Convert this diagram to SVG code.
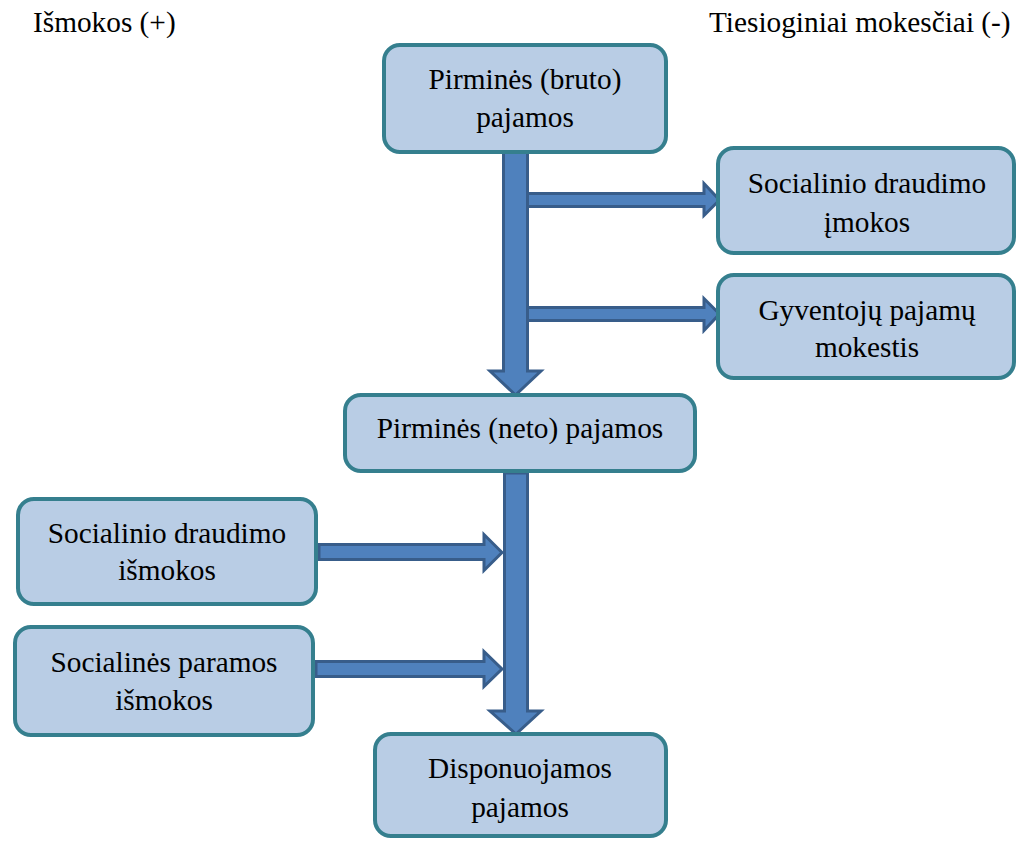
<svg xmlns="http://www.w3.org/2000/svg" width="1018" height="841" viewBox="0 0 1018 841">
<style>
.box{fill:#b9cde5;stroke:#357f8e;stroke-width:4}
.arr{fill:#4f81bd;stroke:#385d8a;stroke-width:3;stroke-linejoin:miter}
.t{font-family:'Liberation Serif',serif;font-size:29.3px;fill:#000}
.c{text-anchor:middle}
</style>
<rect width="1018" height="841" fill="#fff"/>
<text class="t" x="33" y="32">Išmokos (+)</text>
<text class="t" x="709" y="32">Tiesioginiai mokesčiai (-)</text>
<g id="connectors">
<polygon class="arr" points="518,193.5 704,193.5 704,183.5 719.5,200 704,215.5 704,206.5 518,206.5"/>
<polygon class="arr" points="518,307.5 704,307.5 704,298.5 719.5,314 704,330.5 704,320.5 518,320.5"/>
<polygon class="arr" points="503.5,152 527.5,152 527.5,371 541,371 515.5,395 490,371 503.5,371"/>
<polygon class="arr" points="319,544.5 484,544.5 484,534.5 502,552.5 484,570.5 484,559.5 319,559.5"/>
<polygon class="arr" points="316,661.5 484,661.5 484,651.5 502,669 484,686.5 484,676.5 316,676.5"/>
<polygon class="arr" points="504.5,473 527.5,473 527.5,711 541,711 516,734 490,711 504.5,711"/>
</g>
<g id="n1"><rect class="box" x="384" y="45" width="282" height="107" rx="16"/>
<text class="t c" x="525" y="89">Pirminės (bruto)</text><text class="t c" x="525" y="127">pajamos</text></g>
<g id="n2"><rect class="box" x="718" y="148" width="296" height="105" rx="16"/>
<text class="t c" x="867" y="193">Socialinio draudimo</text><text class="t c" x="867" y="232">įmokos</text></g>
<g id="n3"><rect class="box" x="718" y="275" width="296" height="103" rx="16"/>
<text class="t c" x="867" y="320">Gyventojų pajamų</text><text class="t c" x="867" y="357">mokestis</text></g>
<g id="n4"><rect class="box" x="345" y="395" width="350" height="76" rx="16"/>
<text class="t c" x="520" y="438">Pirminės (neto) pajamos</text></g>
<g id="n5"><rect class="box" x="18" y="499" width="298" height="105" rx="16"/>
<text class="t c" x="167" y="543">Socialinio draudimo</text><text class="t c" x="167" y="580">išmokos</text></g>
<g id="n6"><rect class="box" x="15" y="627" width="298" height="108" rx="16"/>
<text class="t c" x="164" y="672">Socialinės paramos</text><text class="t c" x="164" y="710">išmokos</text></g>
<g id="n7"><rect class="box" x="375" y="734" width="291" height="102" rx="16"/>
<text class="t c" x="520" y="778">Disponuojamos</text><text class="t c" x="520" y="817">pajamos</text></g>
</svg>
